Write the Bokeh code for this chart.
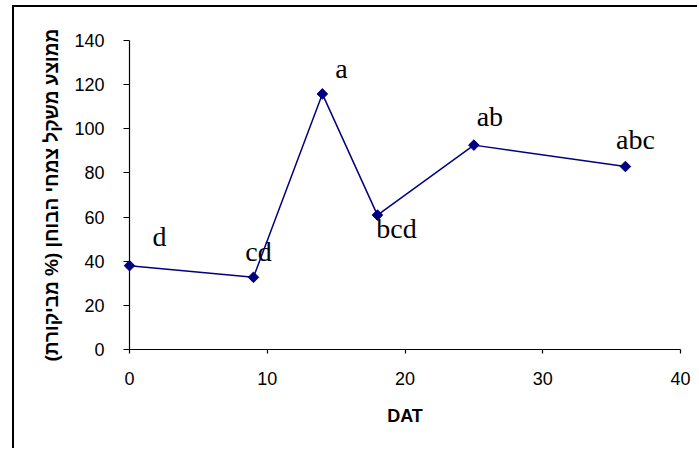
import math
from bokeh.plotting import figure
from bokeh.models import Range1d, FixedTicker, ColumnDataSource
from bokeh.core.properties import value
from bokeh.embed import file_html
from bokeh.resources import INLINE

# ---- data ----
days = [0, 9, 14, 18, 25, 36]
weight_pct = [38.0, 32.7, 115.8, 60.9, 92.6, 82.9]
letters = ["d", "cd", "a", "bcd", "ab", "abc"]
x_ticks = [0, 10, 20, 30, 40]
y_ticks = [0, 20, 40, 60, 80, 100, 120, 140]
x_title = "DAT"
y_title = "ממוצע משקל צמחי הבוחן (% מביקורת)\u200F"

# ---- layout: letter label offsets in pixels from each point ----
label_dx = [30, 5, 19, 19, 16, 10]
label_dy = [-29, -26, -25, 13, -29, -27]

p = figure(width=685, height=443, output_backend="svg", toolbar_location=None,
           x_range=Range1d(0, 40), y_range=Range1d(0, 140),
           min_border_left=115, min_border_right=19,
           min_border_top=33, min_border_bottom=101)
p.margin = (5, 0, 0, 12)
p.styles = {"border-left": "2px solid #000", "border-top": "2px solid #000"}

p.xgrid.visible = False
p.ygrid.visible = False
p.outline_line_color = None
p.background_fill_color = "white"
p.border_fill_color = "white"

src = ColumnDataSource(dict(x=days, y=weight_pct, t=letters, dx=label_dx, dy=label_dy))

p.line("x", "y", source=src, line_color="#000080", line_width=1.5, level="annotation")
p.scatter("x", "y", source=src, marker="square", angle=math.pi / 4, size=7.5,
          fill_color="#000080", line_color="#000080", level="annotation")
p.text(x="x", y="y", text="t", x_offset="dx", y_offset="dy", source=src,
       text_font=value("Liberation Serif"), text_font_size="28px",
       text_align="center", text_baseline="alphabetic", text_color="black")

for ax in (p.xaxis[0], p.yaxis[0]):
    ax.axis_line_color = "black"
    ax.axis_line_width = 1.2
    ax.major_tick_line_color = "black"
    ax.major_tick_line_width = 1.2
    ax.major_tick_in = 0
    ax.minor_tick_line_color = None
    ax.major_label_text_font = "Liberation Sans"
    ax.major_label_text_font_size = "18px"
    ax.major_label_text_color = "black"
    ax.axis_label_text_font = "Liberation Sans"
    ax.axis_label_text_font_style = "bold"
    ax.axis_label_text_color = "black"

p.xaxis.ticker = FixedTicker(ticks=x_ticks)
p.xaxis.major_tick_out = 4
p.xaxis.major_label_standoff = 18
p.xaxis.axis_label = x_title
p.xaxis.axis_label_text_font_size = "18px"
p.xaxis.axis_label_standoff = 18

p.yaxis.ticker = FixedTicker(ticks=y_ticks)
p.yaxis.major_tick_out = 6
p.yaxis.major_label_standoff = 19
p.yaxis.axis_label = y_title
p.yaxis.axis_label_text_font_size = "19px"
p.yaxis.axis_label_standoff = 9

open("out.html", "w").write(file_html(p, INLINE))
